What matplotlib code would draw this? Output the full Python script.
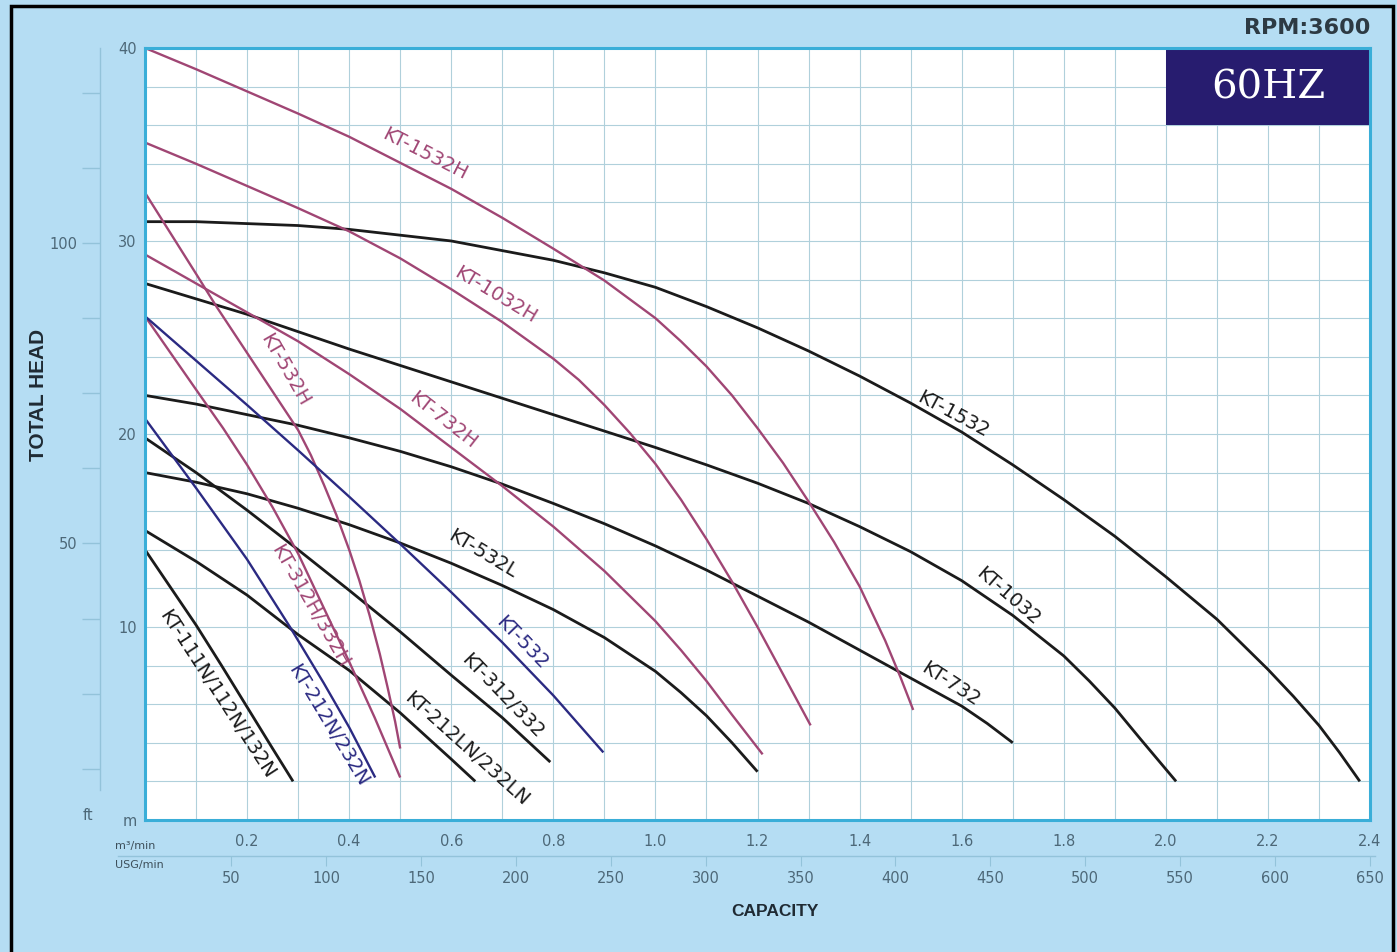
import numpy as np
import matplotlib.pyplot as plt
from matplotlib.patches import Rectangle

# capacity in m3/min, total head in m
kt1532_q = [0, 0.1, 0.2, 0.3, 0.4, 0.5, 0.6, 0.7, 0.8, 0.9, 1.0, 1.1, 1.2, 1.3, 1.4, 1.5,
            1.6, 1.7, 1.8, 1.9, 2.0, 2.1, 2.2, 2.25, 2.3, 2.34, 2.38]
kt1532_h = [31.0, 31.0, 30.9, 30.8, 30.6, 30.3, 30.0, 29.5, 29.0, 28.35, 27.6, 26.6, 25.5, 24.3, 23.0, 21.6,
            20.1, 18.4, 16.6, 14.7, 12.6, 10.4, 7.8, 6.4, 4.9, 3.5, 2.0]

kt1032_q = [0, 0.1, 0.2, 0.3, 0.4, 0.5, 0.6, 0.7, 0.8, 0.9, 1.0, 1.1, 1.2, 1.3, 1.4, 1.5,
            1.6, 1.7, 1.8, 1.85, 1.9, 1.95, 2.02]
kt1032_h = [27.8, 27.0, 26.2, 25.3, 24.4, 23.55, 22.7, 21.85, 21.0, 20.15, 19.3, 18.4, 17.45, 16.4, 15.2, 13.9,
            12.4, 10.6, 8.5, 7.2, 5.8, 4.2, 2.0]

kt732_q = [0, 0.1, 0.2, 0.3, 0.4, 0.5, 0.6, 0.7, 0.8, 0.9, 1.0, 1.1, 1.2, 1.3, 1.4, 1.5, 1.6, 1.65, 1.7]
kt732_h = [22.0, 21.55, 21.0, 20.45, 19.8, 19.1, 18.3, 17.4, 16.4, 15.35, 14.2, 12.95, 11.6, 10.25, 8.8, 7.35,
           5.9, 5.0, 4.0]

kt532l_q = [0, 0.1, 0.2, 0.3, 0.4, 0.5, 0.6, 0.7, 0.8, 0.9, 1.0, 1.05, 1.1, 1.15, 1.2]
kt532l_h = [18.0, 17.5, 16.9, 16.15, 15.3, 14.35, 13.3, 12.15, 10.9, 9.45, 7.7, 6.6, 5.4, 4.0, 2.5]

kt312_q = [0, 0.1, 0.2, 0.3, 0.4, 0.5, 0.6, 0.7, 0.794]
kt312_h = [19.8, 18.0, 16.05, 14.0, 11.9, 9.75, 7.5, 5.3, 3.0]

kt212ln_q = [0, 0.1, 0.2, 0.3, 0.4, 0.5, 0.6, 0.647]
kt212ln_h = [15.0, 13.4, 11.65, 9.6, 7.75, 5.55, 3.15, 2.0]

kt111n_q = [0, 0.05, 0.1, 0.15, 0.2, 0.25, 0.29]
kt111n_h = [14.0, 12.05, 10.1, 8.0, 5.85, 3.7, 2.0]

kt1532h_q = [0, 0.1, 0.2, 0.3, 0.4, 0.5, 0.6, 0.7, 0.8, 0.9, 1.0, 1.05, 1.1, 1.15, 1.2, 1.25,
             1.3, 1.35, 1.4, 1.45, 1.48, 1.505]
kt1532h_h = [40.0, 38.9, 37.75, 36.6, 35.4, 34.05, 32.7, 31.2, 29.6, 27.95, 26.0, 24.8, 23.5, 22.0, 20.3, 18.5,
             16.5, 14.4, 12.1, 9.3, 7.4, 5.7]

kt1032h_q = [0, 0.1, 0.2, 0.3, 0.4, 0.5, 0.6, 0.7, 0.8, 0.85, 0.9, 0.95, 1.0, 1.05, 1.1, 1.15, 1.2, 1.25, 1.304]
kt1032h_h = [35.1, 34.0, 32.85, 31.7, 30.5, 29.1, 27.5, 25.8, 23.9, 22.8, 21.5, 20.05, 18.45, 16.6, 14.55, 12.35,
             10.0, 7.55, 4.9]

kt732h_q = [0, 0.1, 0.2, 0.3, 0.4, 0.5, 0.6, 0.7, 0.8, 0.9, 1.0, 1.05, 1.1, 1.15, 1.21]
kt732h_h = [29.3, 27.8, 26.3, 24.8, 23.1, 21.3, 19.3, 17.3, 15.2, 12.9, 10.3, 8.8, 7.2, 5.45, 3.4]

kt532h_q = [0, 0.05, 0.1, 0.14, 0.2, 0.25, 0.3, 0.325, 0.35, 0.375, 0.4, 0.42, 0.44, 0.46, 0.475, 0.49, 0.5]
kt532h_h = [32.5, 30.4, 28.3, 26.6, 24.2, 22.2, 20.2, 18.9, 17.4, 15.8, 14.0, 12.4, 10.6, 8.6, 6.9, 5.1, 3.7]

kt312h_q = [0, 0.05, 0.1, 0.153, 0.2, 0.25, 0.3, 0.35, 0.4, 0.45, 0.5]
kt312h_h = [26.1, 24.2, 22.3, 20.3, 18.4, 16.2, 13.8, 11.0, 8.2, 5.3, 2.2]

kt532_q = [0, 0.1, 0.2, 0.3, 0.4, 0.5, 0.6, 0.7, 0.8, 0.898]
kt532_h = [26.1, 23.8, 21.5, 19.15, 16.75, 14.3, 11.8, 9.2, 6.45, 3.5]

kt212n_q = [0, 0.1, 0.2, 0.284, 0.35, 0.4, 0.451]
kt212n_h = [20.8, 17.2, 13.5, 10.0, 7.1, 4.8, 2.2]

q_ticks = [0.2, 0.4, 0.6, 0.8, 1.0, 1.2, 1.4, 1.6, 1.8, 2.0, 2.2, 2.4]
q_labels = ["0.2", "0.4", "0.6", "0.8", "1.0", "1.2", "1.4", "1.6", "1.8", "2.0", "2.2", "2.4"]
h_ticks = [0, 10, 20, 30, 40]
h_labels = ["m", "10", "20", "30", "40"]
usg_ticks = [50, 100, 150, 200, 250, 300, 350, 400, 450, 500, 550, 600, 650]
ft_ticks = [12.5, 25, 37.5, 50, 62.5, 75, 87.5, 100, 112.5, 125]
ft_labels = ["", "", "", "50", "", "", "", "100", "", ""]

BLACK = "#1b1b1b"
PLUM = "#a04674"
NAVY = "#2b2a82"

# curve, colour, width, label, label spot (q, h), label angle
curves = [
    (kt1532_q, kt1532_h, BLACK, 2.0, "KT-1532", (1.584, 21.0), -28),
    (kt1032_q, kt1032_h, BLACK, 2.0, "KT-1032", (1.69, 11.6), -41),
    (kt732_q, kt732_h, BLACK, 2.0, "KT-732", (1.578, 7.05), -33),
    (kt532l_q, kt532l_h, BLACK, 2.0, "KT-532L", (0.661, 13.8), -31),
    (kt312_q, kt312_h, BLACK, 2.0, "KT-312/332", (0.70, 6.4), -46),
    (kt212ln_q, kt212ln_h, BLACK, 2.0, "KT-212LN/232LN", (0.631, 3.7), -42),
    (kt111n_q, kt111n_h, BLACK, 2.0, "KT-111N/112N/132N", (0.141, 6.5), -57),
    (kt1532h_q, kt1532h_h, PLUM, 1.7, "KT-1532H", (0.549, 34.5), -27),
    (kt1032h_q, kt1032h_h, PLUM, 1.7, "KT-1032H", (0.686, 27.2), -31),
    (kt732h_q, kt732h_h, PLUM, 1.7, "KT-732H", (0.584, 20.7), -38),
    (kt532h_q, kt532h_h, PLUM, 1.7, "KT-532H", (0.275, 23.3), -60),
    (kt312h_q, kt312h_h, PLUM, 1.7, "KT-312H/332H", (0.324, 11.1), -60),
    (kt532_q, kt532_h, NAVY, 1.7, "KT-532", (0.739, 9.2), -46),
    (kt212n_q, kt212n_h, NAVY, 1.7, "KT-212N/232N", (0.359, 4.9), -59),
]

BG = "#b5ddf3"
TICKC = "#4d6878"

fig = plt.figure(figsize=(13.97, 9.52), dpi=100, facecolor=BG)
ax = fig.add_axes([0.1038, 0.1387, 0.8769, 0.8109])
ax.set_facecolor("white")
ax.set_xlim(0, 2.4)
ax.set_ylim(0, 40)

ax.set_xticks(np.arange(0, 2.41, 0.1), minor=True)
ax.set_yticks(np.arange(0, 40.1, 2), minor=True)
ax.set_xticks(q_ticks, q_labels)
ax.set_yticks(h_ticks, h_labels)
ax.grid(which="both", color="#b0d0db", lw=0.8)
ax.set_axisbelow(True)
ax.tick_params(which="both", length=0, labelsize=10.5, labelcolor=TICKC)
ax.tick_params(axis="x", pad=10)
ax.tick_params(axis="y", pad=6)
for s in ax.spines.values():
    s.set_color("#3aaed8")
    s.set_linewidth(2.2)
    s.set_zorder(5)

for q, h, c, lw, name, (lx, ly), rot in curves:
    ax.plot(q, h, color=c, lw=lw, solid_capstyle="butt", solid_joinstyle="round", zorder=3)
    ax.text(lx, ly, name, color=c, fontsize=14, rotation=rot,
            rotation_mode="anchor", ha="center", va="center", zorder=4)

# 60HZ box
ax.add_patch(Rectangle((2.0, 36.0), 0.4, 4.0, facecolor="#271c6f", edgecolor="none", zorder=4))
ax.text(2.2, 37.95, "60HZ", color="white", fontsize=29, family="DejaVu Serif",
        ha="center", va="center", zorder=5)

# USG/min scale under the m3/min labels
def m3_to_usg(q):
    return (np.asarray(q) + 0.0165) / 0.003717

def usg_to_m3(u):
    return np.asarray(u) * 0.003717 - 0.0165

usg = ax.secondary_xaxis(-0.0466, functions=(m3_to_usg, usg_to_m3))
usg.set_xticks(usg_ticks)
usg.spines["bottom"].set_bounds(-10, 653)
usg.spines["bottom"].set_color("#93c3da")
usg.spines["bottom"].set_linewidth(1.0)
usg.tick_params(direction="out", length=7, width=0.8, color="#93c3da",
                labelsize=10.5, labelcolor=TICKC, pad=4)

# feet scale on the left
def m_to_ft(h):
    return (np.asarray(h) + 1.24) / 0.3114

def ft_to_m(f):
    return np.asarray(f) * 0.3114 - 1.24

ft = ax.secondary_yaxis(-0.0367, functions=(m_to_ft, ft_to_m))
ft.set_yticks(ft_ticks, ft_labels)
ft.spines["left"].set_bounds(9.0, 132.4)
ft.spines["left"].set_color("#93c3da")
ft.spines["left"].set_linewidth(1.0)
ft.tick_params(direction="out", length=13, width=1.0, color="#93c3da",
               labelsize=10.5, labelcolor=TICKC, pad=3)

fig.text(88 / 1397, 1 - 815 / 952, "ft", fontsize=10.5, color=TICKC, ha="center", va="center")
fig.text(115 / 1397, 1 - 846 / 952, "m\u00b3/min", fontsize=8, color="#3d4f5a", ha="left", va="center")
fig.text(115 / 1397, 1 - 865 / 952, "USG/min", fontsize=8, color="#3d4f5a", ha="left", va="center")

fig.text(38 / 1397, 1 - 395 / 952, "TOTAL HEAD", fontsize=15, fontweight="bold",
         family="Liberation Sans", color="#1f2a33", rotation=90, ha="center", va="center")
fig.text(775 / 1397, 1 - 912 / 952, "CAPACITY", fontsize=12.5, fontweight="bold",
         family="Liberation Sans", color="#1f2a33", ha="center", va="center")
fig.text(1370 / 1397, 1 - 28 / 952, "RPM:3600", fontsize=16, fontweight="bold",
         family="DejaVu Sans", color="#2d3a43", ha="right", va="center")

# black frame round the sheet
fig.add_artist(Rectangle((11 / 1397, -0.05), (1393 - 11) / 1397, 1.05 - 6 / 952,
                         transform=fig.transFigure, fill=False, edgecolor="black", lw=2.5))

fig.savefig("out.png", dpi=100, facecolor=BG)
